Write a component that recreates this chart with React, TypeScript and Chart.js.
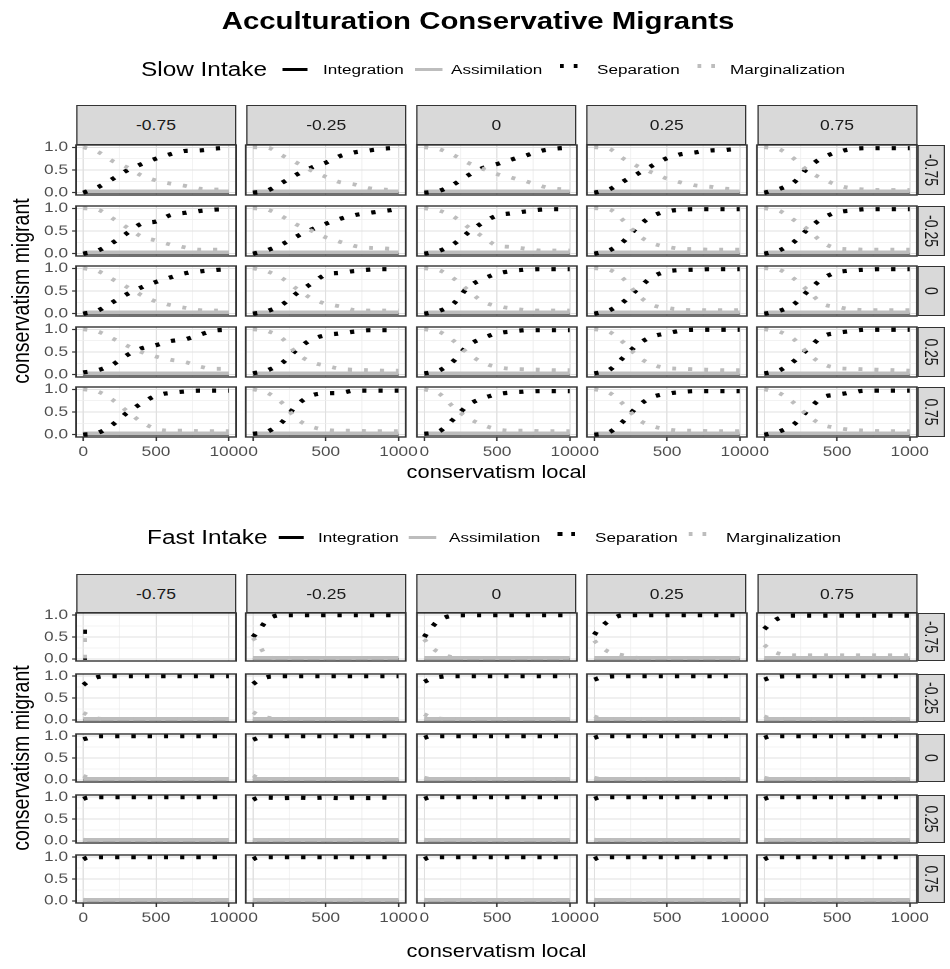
import React, { useEffect, useRef } from 'react';
import { Chart, registerables } from 'chart.js';

Chart.register(...registerables);

// ---------------- text ----------------
const titleText = 'Acculturation Conservative Migrants';
const gridTitles = ['Slow Intake', 'Fast Intake'];
const seriesNames = ['Integration', 'Assimilation', 'Separation', 'Marginalization'];
const facetLabels = ['-0.75', '-0.25', '0', '0.25', '0.75'];
const xAxisTitle = 'conservatism local';
const yAxisTitle = 'conservatism migrant';

// ---------------- axes ----------------
const xTickValues = [0, 250, 500, 750, 1000];
const xTickLabels = ['0', '', '500', '', '1000'];
const yTickValues = [0, 0.25, 0.5, 0.75, 1];
const yTickLabels = ['0.0', '', '0.5', '', '1.0'];

// ---------------- data: x grids ----------------
const slowX = [0, 100, 200, 300, 400, 500, 600, 700, 800, 900, 1000];
const slowLineX = [0, 500, 1000];
const fastX = [0, 25, 50, 100, 200, 300, 400, 500, 600, 700, 800, 900, 1000];
const fastLineX = [0, 25, 1000];

// rows = migrant facet (-0.75 .. 0.75), cols = local facet (-0.75 .. 0.75)
const slowSeparation = [
  [
    [0.00, 0.12, 0.30, 0.49, 0.63, 0.75, 0.85, 0.92, 0.93, 0.97, 0.99],
    [0.00, 0.05, 0.22, 0.40, 0.55, 0.66, 0.81, 0.89, 0.93, 0.97, 0.99],
    [0.00, 0.04, 0.18, 0.38, 0.54, 0.63, 0.73, 0.82, 0.92, 0.97, 0.99],
    [0.00, 0.07, 0.25, 0.42, 0.60, 0.76, 0.85, 0.89, 0.93, 0.94, 0.98],
    [0.00, 0.08, 0.22, 0.55, 0.77, 0.89, 0.96, 0.98, 0.98, 0.98, 0.98],
  ],
  [
    [0.00, 0.07, 0.24, 0.45, 0.66, 0.71, 0.85, 0.90, 0.94, 0.97, 0.98],
    [0.00, 0.08, 0.21, 0.38, 0.53, 0.66, 0.77, 0.85, 0.90, 0.94, 0.98],
    [0.00, 0.06, 0.21, 0.46, 0.68, 0.84, 0.89, 0.93, 0.97, 0.98, 0.98],
    [0.00, 0.07, 0.27, 0.60, 0.83, 0.93, 0.97, 0.98, 0.98, 0.98, 0.98],
    [0.00, 0.07, 0.25, 0.54, 0.78, 0.91, 0.95, 0.98, 0.98, 0.98, 0.98],
  ],
  [
    [0.00, 0.07, 0.25, 0.43, 0.58, 0.70, 0.80, 0.89, 0.93, 0.96, 0.98],
    [0.00, 0.06, 0.20, 0.45, 0.66, 0.86, 0.90, 0.94, 0.97, 0.98, 0.98],
    [0.00, 0.06, 0.22, 0.58, 0.76, 0.88, 0.94, 0.97, 0.98, 0.98, 0.98],
    [0.00, 0.07, 0.26, 0.55, 0.81, 0.93, 0.96, 0.97, 0.98, 0.98, 0.98],
    [0.00, 0.06, 0.20, 0.50, 0.77, 0.91, 0.95, 0.97, 0.98, 0.98, 0.98],
  ],
  [
    [0.05, 0.10, 0.22, 0.43, 0.58, 0.65, 0.74, 0.78, 0.88, 0.97, 0.99],
    [0.03, 0.10, 0.26, 0.55, 0.77, 0.87, 0.91, 0.95, 0.98, 0.98, 0.98],
    [0.03, 0.09, 0.30, 0.64, 0.80, 0.91, 0.95, 0.98, 0.98, 0.98, 0.98],
    [0.03, 0.10, 0.38, 0.67, 0.84, 0.91, 0.97, 0.99, 0.99, 0.99, 0.99],
    [0.03, 0.09, 0.29, 0.57, 0.84, 0.92, 0.96, 0.99, 0.99, 0.99, 0.99],
  ],
  [
    [0.00, 0.04, 0.22, 0.48, 0.69, 0.86, 0.92, 0.95, 0.97, 0.97, 0.97],
    [0.02, 0.07, 0.28, 0.65, 0.86, 0.91, 0.92, 0.97, 0.97, 0.97, 0.97],
    [0.02, 0.07, 0.34, 0.65, 0.80, 0.89, 0.93, 0.95, 0.96, 0.96, 0.96],
    [0.00, 0.05, 0.30, 0.63, 0.83, 0.90, 0.94, 0.96, 0.96, 0.96, 0.96],
    [0.00, 0.07, 0.22, 0.54, 0.82, 0.88, 0.93, 0.97, 0.97, 0.97, 0.97],
  ],
];

const slowMarginalization = [
  [
    [1.00, 0.90, 0.70, 0.56, 0.38, 0.27, 0.20, 0.15, 0.09, 0.07, 0.07],
    [1.00, 0.99, 0.82, 0.66, 0.49, 0.35, 0.23, 0.18, 0.10, 0.07, 0.06],
    [1.00, 0.96, 0.83, 0.66, 0.53, 0.41, 0.33, 0.25, 0.15, 0.09, 0.07],
    [1.00, 0.97, 0.75, 0.58, 0.44, 0.31, 0.22, 0.16, 0.13, 0.09, 0.07],
    [1.00, 0.96, 0.76, 0.48, 0.31, 0.17, 0.10, 0.07, 0.06, 0.06, 0.06],
  ],
  [
    [1.00, 0.97, 0.78, 0.58, 0.38, 0.29, 0.20, 0.14, 0.09, 0.09, 0.09],
    [1.00, 0.97, 0.82, 0.64, 0.51, 0.36, 0.26, 0.17, 0.13, 0.12, 0.09],
    [1.00, 0.95, 0.82, 0.59, 0.38, 0.18, 0.15, 0.11, 0.07, 0.07, 0.07],
    [1.00, 0.98, 0.73, 0.41, 0.23, 0.15, 0.11, 0.10, 0.09, 0.09, 0.09],
    [1.00, 0.95, 0.75, 0.53, 0.25, 0.12, 0.10, 0.09, 0.09, 0.09, 0.09],
  ],
  [
    [1.00, 0.94, 0.76, 0.59, 0.41, 0.27, 0.19, 0.13, 0.08, 0.07, 0.07],
    [1.00, 0.93, 0.78, 0.55, 0.34, 0.22, 0.16, 0.08, 0.07, 0.07, 0.07],
    [1.00, 0.96, 0.78, 0.52, 0.27, 0.17, 0.12, 0.08, 0.07, 0.07, 0.07],
    [1.00, 0.97, 0.77, 0.41, 0.19, 0.13, 0.09, 0.08, 0.08, 0.08, 0.08],
    [1.00, 0.97, 0.78, 0.51, 0.22, 0.15, 0.10, 0.08, 0.08, 0.08, 0.08],
  ],
  [
    [1.00, 0.95, 0.80, 0.64, 0.50, 0.40, 0.33, 0.28, 0.18, 0.13, 0.13],
    [1.00, 0.96, 0.80, 0.47, 0.28, 0.20, 0.13, 0.11, 0.10, 0.09, 0.09],
    [1.00, 0.95, 0.75, 0.47, 0.27, 0.17, 0.13, 0.12, 0.11, 0.10, 0.10],
    [1.00, 0.95, 0.71, 0.40, 0.22, 0.15, 0.13, 0.12, 0.11, 0.10, 0.10],
    [1.00, 0.95, 0.79, 0.47, 0.24, 0.15, 0.13, 0.12, 0.11, 0.10, 0.09],
  ],
  [
    [1.00, 0.95, 0.77, 0.52, 0.28, 0.13, 0.09, 0.09, 0.08, 0.08, 0.08],
    [1.00, 0.92, 0.70, 0.35, 0.18, 0.11, 0.09, 0.09, 0.08, 0.08, 0.08],
    [1.00, 0.91, 0.61, 0.37, 0.22, 0.12, 0.09, 0.09, 0.08, 0.08, 0.08],
    [1.00, 0.93, 0.67, 0.34, 0.19, 0.12, 0.09, 0.09, 0.08, 0.08, 0.08],
    [1.00, 0.92, 0.71, 0.42, 0.22, 0.15, 0.11, 0.09, 0.08, 0.08, 0.08],
  ],
];

const slowAssimilation = [
  [[0.03, 0.03, 0.03], [0.03, 0.03, 0.03], [0.03, 0.03, 0.03], [0.03, 0.03, 0.03], [0.03, 0.03, 0.03]],
  [[0.03, 0.03, 0.03], [0.03, 0.03, 0.03], [0.03, 0.03, 0.03], [0.03, 0.03, 0.03], [0.03, 0.03, 0.03]],
  [[0.03, 0.03, 0.03], [0.03, 0.03, 0.03], [0.03, 0.03, 0.03], [0.03, 0.03, 0.03], [0.03, 0.03, 0.03]],
  [[0.03, 0.03, 0.03], [0.03, 0.03, 0.03], [0.03, 0.03, 0.03], [0.03, 0.03, 0.03], [0.03, 0.03, 0.03]],
  [[0.03, 0.03, 0.03], [0.03, 0.03, 0.03], [0.03, 0.03, 0.03], [0.03, 0.03, 0.03], [0.03, 0.03, 0.03]],
];

const slowIntegration = [
  [[0, 0, 0], [0, 0, 0], [0, 0, 0], [0, 0, 0], [0, 0, 0]],
  [[0, 0, 0], [0, 0, 0], [0, 0, 0], [0, 0, 0], [0, 0, 0]],
  [[0, 0, 0], [0, 0, 0], [0, 0, 0], [0, 0, 0], [0, 0, 0]],
  [[0, 0, 0], [0, 0, 0], [0, 0, 0], [0, 0, 0], [0, 0, 0]],
  [[0, 0, 0], [0, 0, 0], [0, 0, 0], [0, 0, 0], [0, 0, 0]],
];

const fastSeparation = [
  [
    [0.62, 0.62, null, null, null, null, null, null, null, null, null, null, null],
    [0.50, 0.60, 0.70, 0.90, 1.00, 1.00, 1.00, 1.00, 1.00, 1.00, 1.00, 1.00, 1.00],
    [0.50, 0.62, 0.72, 0.88, 0.99, 1.00, 1.00, 1.00, 1.00, 1.00, 1.00, 1.00, 1.00],
    [0.55, 0.66, 0.74, 0.87, 1.00, 1.00, 1.00, 1.00, 1.00, 1.00, 1.00, 1.00, 1.00],
    [0.68, 0.76, 0.83, 0.93, 0.99, 0.99, 0.99, 0.99, 0.99, 0.99, 0.99, 0.99, 0.99],
  ],
  [
    [0.80, 0.86, 0.92, 0.98, 1.00, 1.00, 1.00, 1.00, 1.00, 1.00, 1.00, 1.00, 1.00],
    [0.82, 0.88, 0.93, 0.98, 1.00, 1.00, 1.00, 1.00, 1.00, 1.00, 1.00, 1.00, 1.00],
    [0.87, 0.91, 0.94, 0.98, 1.00, 1.00, 1.00, 1.00, 1.00, 1.00, 1.00, 1.00, 1.00],
    [0.92, 0.95, 0.97, 0.99, 1.00, 1.00, 1.00, 1.00, 1.00, 1.00, 1.00, 1.00, 1.00],
    [0.92, 0.95, 0.97, 0.99, 1.00, 1.00, 1.00, 1.00, 1.00, 1.00, 1.00, 1.00, 1.00],
  ],
  [
    [0.93, 0.95, 0.98, 1.00, 1.00, 1.00, 1.00, 1.00, 1.00, 1.00, 1.00, 1.00, 1.00],
    [0.92, 0.95, 0.98, 1.00, 1.00, 1.00, 1.00, 1.00, 1.00, 1.00, 1.00, 1.00, 1.00],
    [0.96, 0.99, 1.00, 1.00, 1.00, 1.00, 1.00, 1.00, 1.00, 1.00, 1.00, 1.00, 1.00],
    [0.96, 0.99, 1.00, 1.00, 1.00, 1.00, 1.00, 1.00, 1.00, 1.00, 1.00, 1.00, 1.00],
    [0.96, 0.99, 1.00, 1.00, 1.00, 1.00, 1.00, 1.00, 1.00, 1.00, 1.00, 1.00, 1.00],
  ],
  [
    [0.96, 0.99, 1.00, 1.00, 1.00, 1.00, 1.00, 1.00, 1.00, 1.00, 1.00, 1.00, 1.00],
    [0.94, 0.98, 0.99, 0.99, 0.98, 0.99, 0.98, 0.99, 0.98, 0.99, 0.98, 0.99, 0.98],
    [0.96, 0.99, 1.00, 1.00, 1.00, 1.00, 1.00, 1.00, 1.00, 1.00, 1.00, 1.00, 1.00],
    [0.96, 0.99, 1.00, 1.00, 1.00, 1.00, 1.00, 1.00, 1.00, 1.00, 1.00, 1.00, 1.00],
    [0.96, 0.99, 1.00, 1.00, 1.00, 1.00, 1.00, 1.00, 1.00, 1.00, 1.00, 1.00, 1.00],
  ],
  [
    [0.95, 0.99, 1.00, 1.00, 1.00, 1.00, 1.00, 1.00, 1.00, 1.00, 1.00, 1.00, 1.00],
    [0.95, 0.99, 1.00, 1.00, 1.00, 1.00, 1.00, 1.00, 1.00, 1.00, 1.00, 1.00, 1.00],
    [0.95, 0.99, 1.00, 1.00, 1.00, 1.00, 1.00, 1.00, 1.00, 1.00, 1.00, 1.00, 1.00],
    [0.95, 0.99, 1.00, 1.00, 1.00, 1.00, 1.00, 1.00, 1.00, 1.00, 1.00, 1.00, 1.00],
    [0.95, 0.99, 1.00, 1.00, 1.00, 1.00, 1.00, 1.00, 1.00, 1.00, 1.00, 1.00, 1.00],
  ],
];

const fastMarginalization = [
  [
    [0.43, 0.43, null, null, null, null, null, null, null, null, null, null, null],
    [0.48, 0.38, 0.26, 0.05, 0.01, 0.01, 0.01, 0.01, 0.01, 0.01, 0.01, 0.01, 0.01],
    [0.45, 0.35, 0.26, 0.15, 0.03, 0.01, 0.01, 0.01, 0.01, 0.01, 0.01, 0.01, 0.01],
    [0.42, 0.33, 0.26, 0.16, 0.08, 0.02, 0.01, 0.01, 0.01, 0.01, 0.01, 0.01, 0.01],
    [0.32, 0.25, 0.18, 0.12, 0.08, 0.08, 0.08, 0.08, 0.08, 0.08, 0.08, 0.08, 0.08],
  ],
  [
    [0.16, 0.12, 0.07, 0.03, 0.01, 0.01, 0.01, 0.01, 0.01, 0.01, 0.01, 0.01, 0.01],
    [0.18, 0.13, 0.09, 0.05, 0.01, 0.01, 0.01, 0.01, 0.01, 0.01, 0.01, 0.01, 0.01],
    [0.13, 0.09, 0.06, 0.03, 0.01, 0.01, 0.01, 0.01, 0.01, 0.01, 0.01, 0.01, 0.01],
    [0.08, 0.05, 0.03, 0.01, 0.01, 0.01, 0.01, 0.01, 0.01, 0.01, 0.01, 0.01, 0.01],
    [0.08, 0.05, 0.03, 0.01, 0.01, 0.01, 0.01, 0.01, 0.01, 0.01, 0.01, 0.01, 0.01],
  ],
  [
    [0.09, 0.06, 0.03, 0.01, 0.01, 0.01, 0.01, 0.01, 0.01, 0.01, 0.01, 0.01, 0.01],
    [0.10, 0.06, 0.03, 0.01, 0.01, 0.01, 0.01, 0.01, 0.01, 0.01, 0.01, 0.01, 0.01],
    [0.05, 0.03, 0.01, 0.01, 0.01, 0.01, 0.01, 0.01, 0.01, 0.01, 0.01, 0.01, 0.01],
    [0.05, 0.03, 0.01, 0.01, 0.01, 0.01, 0.01, 0.01, 0.01, 0.01, 0.01, 0.01, 0.01],
    [0.05, 0.03, 0.01, 0.01, 0.01, 0.01, 0.01, 0.01, 0.01, 0.01, 0.01, 0.01, 0.01],
  ],
  [
    [0.03, 0.01, 0.01, 0.01, 0.01, 0.01, 0.01, 0.01, 0.01, 0.01, 0.01, 0.01, 0.01],
    [0.03, 0.01, 0.01, 0.01, 0.01, 0.01, 0.01, 0.01, 0.01, 0.01, 0.01, 0.01, 0.01],
    [0.03, 0.01, 0.01, 0.01, 0.01, 0.01, 0.01, 0.01, 0.01, 0.01, 0.01, 0.01, 0.01],
    [0.03, 0.01, 0.01, 0.01, 0.01, 0.01, 0.01, 0.01, 0.01, 0.01, 0.01, 0.01, 0.01],
    [0.03, 0.01, 0.01, 0.01, 0.01, 0.01, 0.01, 0.01, 0.01, 0.01, 0.01, 0.01, 0.01],
  ],
  [
    [0.03, 0.01, 0.01, 0.01, 0.01, 0.01, 0.01, 0.01, 0.01, 0.01, 0.01, 0.01, 0.01],
    [0.03, 0.01, 0.01, 0.01, 0.01, 0.01, 0.01, 0.01, 0.01, 0.01, 0.01, 0.01, 0.01],
    [0.03, 0.01, 0.01, 0.01, 0.01, 0.01, 0.01, 0.01, 0.01, 0.01, 0.01, 0.01, 0.01],
    [0.03, 0.01, 0.01, 0.01, 0.01, 0.01, 0.01, 0.01, 0.01, 0.01, 0.01, 0.01, 0.01],
    [0.03, 0.01, 0.01, 0.01, 0.01, 0.01, 0.01, 0.01, 0.01, 0.01, 0.01, 0.01, 0.01],
  ],
];

const fastAssimilation = [
  [[0.05, 0.05, null], [0.02, 0.02, 0.02], [0.02, 0.02, 0.02], [0.02, 0.02, 0.02], [0.02, 0.02, 0.02]],
  [[0.02, 0.02, 0.02], [0.02, 0.02, 0.02], [0.02, 0.02, 0.02], [0.02, 0.02, 0.02], [0.02, 0.02, 0.02]],
  [[0.02, 0.02, 0.02], [0.02, 0.02, 0.02], [0.02, 0.02, 0.02], [0.02, 0.02, 0.02], [0.02, 0.02, 0.02]],
  [[0.02, 0.02, 0.02], [0.02, 0.02, 0.02], [0.02, 0.02, 0.02], [0.02, 0.02, 0.02], [0.02, 0.02, 0.02]],
  [[0.02, 0.02, 0.02], [0.02, 0.02, 0.02], [0.02, 0.02, 0.02], [0.02, 0.02, 0.02], [0.02, 0.02, 0.02]],
];

const fastIntegration = [
  [[0, 0, null], [0, 0, 0], [0, 0, 0], [0, 0, 0], [0, 0, 0]],
  [[0, 0, 0], [0, 0, 0], [0, 0, 0], [0, 0, 0], [0, 0, 0]],
  [[0, 0, 0], [0, 0, 0], [0, 0, 0], [0, 0, 0], [0, 0, 0]],
  [[0, 0, 0], [0, 0, 0], [0, 0, 0], [0, 0, 0], [0, 0, 0]],
  [[0, 0, 0], [0, 0, 0], [0, 0, 0], [0, 0, 0], [0, 0, 0]],
];

// ---------------- layout / style (final pixel space) ----------------
const S = 1.25; // horizontal stretch of the whole picture
const FONT = '"Liberation Sans", Arial, Helvetica, sans-serif';
const BLACK = '#000000';
const GREY = '#BDBDBD';
const BORDER = '#333333';
const PANEL_W = 160;
const COL_LEFT = [76, 246.25, 416.5, 586.75, 757];
const RIGHT_STRIP_LEFT = 917;
const RIGHT_STRIP_W = 28;

const LAYOUT = [
  {
    stripTop: 105, rowTops: [145, 206, 266, 327, 387], panelH: 50,
    legendCY: 69.5, xTitleBase: 479, yTitleCY: 291,
    leg: { title: 141, key1: [282, 307], lab1: 323, key2: [415, 442], lab2: 451, dots3: [560, 574], lab3: 597, dots4: [697, 711], lab4: 730 },
  },
  {
    stripTop: 574, rowTops: [613, 674, 734, 795, 855], panelH: 48,
    legendCY: 537.5, xTitleBase: 958, yTitleCY: 758,
    leg: { title: 147, key1: [279, 304], lab1: 318, key2: [409, 436], lab2: 449, dots3: [558, 571], lab3: 595, dots4: [689, 702], lab4: 726 },
  },
];

const SERIES = [
  { X: slowX, lineX: slowLineX, sep: slowSeparation, marg: slowMarginalization, assim: slowAssimilation, integ: slowIntegration },
  { X: fastX, lineX: fastLineX, sep: fastSeparation, marg: fastMarginalization, assim: fastAssimilation, integ: fastIntegration },
];

const d = (v: number) => v / S;

function pts(xs: number[], ys: (number | null)[]) {
  const out: { x: number; y: number }[] = [];
  xs.forEach((x, i) => {
    const y = ys[i];
    if (y !== null && y !== undefined) out.push({ x, y });
  });
  return out;
}

const borderPlugin = {
  id: 'panelBorder',
  afterDatasetsDraw(chart: any) {
    const { ctx, chartArea: a } = chart;
    ctx.save();
    ctx.strokeStyle = BORDER;
    ctx.lineWidth = 1.4;
    ctx.strokeRect(a.left, a.top, a.right - a.left, a.bottom - a.top);
    ctx.restore();
  },
};

function Panel({ gi, r, c }: { gi: number; r: number; c: number }) {
  const ref = useRef<HTMLCanvasElement | null>(null);
  const G = LAYOUT[gi];
  const D = SERIES[gi];
  const L = COL_LEFT[c];
  const T = G.rowTops[r];
  const H = G.panelH;
  const hasY = c === 0;
  const hasX = r === 4;
  const AY_W = 54;
  const AX_H = 26;
  const PL = hasY ? 66 : 12;
  const PR = 26;
  const PT = 12;
  const PB = hasX ? AX_H + 10 : 12;
  const widthD = Math.ceil(d(PANEL_W + PL + PR));
  const padRight = widthD - d(PL + PANEL_W);
  const heightPx = H + PT + PB;

  useEffect(() => {
    if (!ref.current) return;
    const tickFont = { family: FONT, size: 13.8 };
    const gridColor = (ctx: any) => (ctx.index % 2 === 0 ? '#E0E0E0' : '#EEEEEE');
    const gridWidth = (ctx: any) => (ctx.index % 2 === 0 ? 1 : 0.7);
    const tickColor = (ctx: any) => (ctx.index % 2 === 0 ? BORDER : 'rgba(0,0,0,0)');
    const datasets: any[] = [
      {
        label: seriesNames[0], data: pts(D.lineX, D.integ[r][c]), borderColor: BLACK, borderWidth: 2,
        pointRadius: 0, order: 4,
      },
      {
        label: seriesNames[1], data: pts(D.lineX, D.assim[r][c]), borderColor: GREY, borderWidth: 3.8,
        pointRadius: 0, order: 3,
      },
      {
        label: seriesNames[2], data: pts(D.X, D.sep[r][c]), borderColor: BLACK, borderWidth: 4.2,
        borderDash: [3.4, 9.6], borderCapStyle: 'butt', cubicInterpolationMode: 'monotone', pointRadius: 0, order: 2,
      },
      {
        label: seriesNames[3], data: pts(D.X, D.marg[r][c]), borderColor: GREY, borderWidth: 3.8,
        borderDash: [3.2, 9.6], borderCapStyle: 'butt', cubicInterpolationMode: 'monotone', pointRadius: 0, order: 1,
      },
    ];
    const chart = new Chart(ref.current, {
      type: 'line',
      data: { datasets },
      options: {
        responsive: false,
        animation: false,
        devicePixelRatio: 2,
        events: [],
        layout: {
          padding: {
            left: d(PL - (hasY ? AY_W : 0)),
            right: padRight,
            top: PT,
            bottom: PB - (hasX ? AX_H : 0),
          },
        },
        plugins: { legend: { display: false }, tooltip: { enabled: false }, title: { display: false } },
        scales: {
          x: {
            type: 'linear',
            min: -50,
            max: 1050,
            afterBuildTicks: (s: any) => { s.ticks = xTickValues.map((v) => ({ value: v })); },
            afterFit: (s: any) => { s.height = hasX ? AX_H : 0; },
            ticks: {
              display: hasX, autoSkip: false, maxRotation: 0, minRotation: 0, padding: 3,
              font: tickFont, color: '#4D4D4D',
              callback: (_v: any, i: number) => xTickLabels[i],
            },
            grid: {
              display: true, drawOnChartArea: true, drawTicks: hasX, tickLength: 4,
              color: gridColor, lineWidth: gridWidth, tickColor, tickWidth: 1.2,
            },
            border: { display: false },
          },
          y: {
            type: 'linear',
            min: -0.05,
            max: 1.05,
            afterBuildTicks: (s: any) => { s.ticks = yTickValues.map((v) => ({ value: v })); },
            afterFit: (s: any) => { s.width = hasY ? d(AY_W) : 0; },
            ticks: {
              display: hasY, autoSkip: false, padding: d(4),
              font: tickFont, color: '#4D4D4D',
              callback: (_v: any, i: number) => yTickLabels[i],
            },
            grid: {
              display: true, drawOnChartArea: true, drawTicks: hasY, tickLength: d(4),
              color: gridColor, lineWidth: gridWidth, tickColor, tickWidth: 1.2,
            },
            border: { display: false },
          },
        },
      } as any,
      plugins: [borderPlugin],
    });
    return () => chart.destroy();
  }, []);

  return (
    <canvas
      ref={ref}
      width={widthD}
      height={heightPx}
      style={{ position: 'absolute', left: d(L - PL), top: T - PT, width: widthD, height: heightPx }}
    />
  );
}

function Text({ x, base, size, text, bold, color, align }: any) {
  // x in final space; base = baseline y
  const top = base - 0.8465 * size;
  const common: any = {
    position: 'absolute', top, height: size, lineHeight: `${size}px`, fontFamily: FONT, fontSize: size,
    fontWeight: bold ? 'bold' : 'normal', color: color || '#000', whiteSpace: 'nowrap',
  };
  if (align === 'center') {
    return <div style={{ ...common, left: d(x) - 400, width: 800, textAlign: 'center' }}>{text}</div>;
  }
  return <div style={{ ...common, left: d(x) }}>{text}</div>;
}

function Legend({ gi }: { gi: number }) {
  const G = LAYOUT[gi];
  const cy = G.legendCY;
  const P = G.leg;
  const labSize = 13.7;
  const labBase = cy + 0.358 * labSize;
  const titleSize = 19.5;
  const line = (x: number[], color: string) => (
    <div style={{ position: 'absolute', left: d(x[0]), width: d(x[1] - x[0]), top: cy - 1.5, height: 3, background: color }} />
  );
  const dots = (xs: number[], color: string) =>
    xs.map((x, i) => (
      <div key={i} style={{ position: 'absolute', left: d(x), width: d(4), top: cy - 5.5, height: 4, background: color }} />
    ));
  return (
    <>
      <Text x={P.title} base={cy + 0.358 * titleSize} size={titleSize} text={gridTitles[gi]} />
      {line(P.key1, BLACK)}
      <Text x={P.lab1} base={labBase} size={labSize} text={seriesNames[0]} />
      {line(P.key2, GREY)}
      <Text x={P.lab2} base={labBase} size={labSize} text={seriesNames[1]} />
      {dots(P.dots3, BLACK)}
      <Text x={P.lab3} base={labBase} size={labSize} text={seriesNames[2]} />
      {dots(P.dots4, GREY)}
      <Text x={P.lab4} base={labBase} size={labSize} text={seriesNames[3]} />
    </>
  );
}

function Strips({ gi }: { gi: number }) {
  const G = LAYOUT[gi];
  const stripStyle: any = {
    position: 'absolute', background: '#D9D9D9', border: `1.2px solid ${BORDER}`, boxSizing: 'border-box',
    display: 'flex', alignItems: 'center', justifyContent: 'center', fontFamily: FONT, fontSize: 14, color: '#1A1A1A',
  };
  return (
    <>
      {facetLabels.map((lab, c) => (
        <div key={'t' + c} style={{ ...stripStyle, left: d(COL_LEFT[c]), width: d(PANEL_W), top: G.stripTop, height: G.rowTops[0] - G.stripTop }}>
          {lab}
        </div>
      ))}
      {facetLabels.map((lab, r) => (
        <div key={'r' + r} style={{ ...stripStyle, left: d(RIGHT_STRIP_LEFT), width: d(RIGHT_STRIP_W), top: G.rowTops[r], height: G.panelH }}>
          <span style={{ display: 'inline-block', transform: 'rotate(90deg)', whiteSpace: 'nowrap' }}>{lab}</span>
        </div>
      ))}
    </>
  );
}

function AxisTitles({ gi }: { gi: number }) {
  const G = LAYOUT[gi];
  const ySize = 19.5;
  return (
    <>
      <Text x={496.5} base={G.xTitleBase} size={17.5} text={xAxisTitle} align="center" />
      <div
        style={{
          position: 'absolute', left: d(20) - 200, width: 400, top: G.yTitleCY - 12, height: 24, lineHeight: '24px',
          textAlign: 'center', fontFamily: FONT, fontSize: ySize, color: '#000', whiteSpace: 'nowrap',
          transform: 'rotate(-90deg)',
        }}
      >
        {yAxisTitle}
      </div>
    </>
  );
}

export default function App() {
  useEffect(() => {
    document.body.style.margin = '0';
    document.body.style.overflow = 'hidden';
  }, []);
  const panels: any[] = [];
  [0, 1].forEach((gi) => {
    for (let r = 0; r < 5; r++) for (let c = 0; c < 5; c++) panels.push(<Panel key={`${gi}-${r}-${c}`} gi={gi} r={r} c={c} />);
  });
  return (
    <div style={{ position: 'absolute', left: 0, top: 0, width: 950, height: 969, overflow: 'hidden', background: '#fff' }}>
      <div style={{ position: 'absolute', left: 0, top: 0, width: 950 / S, height: 969, transform: `scaleX(${S})`, transformOrigin: '0 0' }}>
        <Text x={478} base={30} size={23.5} bold text={titleText} align="center" />
        {[0, 1].map((gi) => (
          <React.Fragment key={gi}>
            <Legend gi={gi} />
            <Strips gi={gi} />
            <AxisTitles gi={gi} />
          </React.Fragment>
        ))}
        {panels}
      </div>
    </div>
  );
}
